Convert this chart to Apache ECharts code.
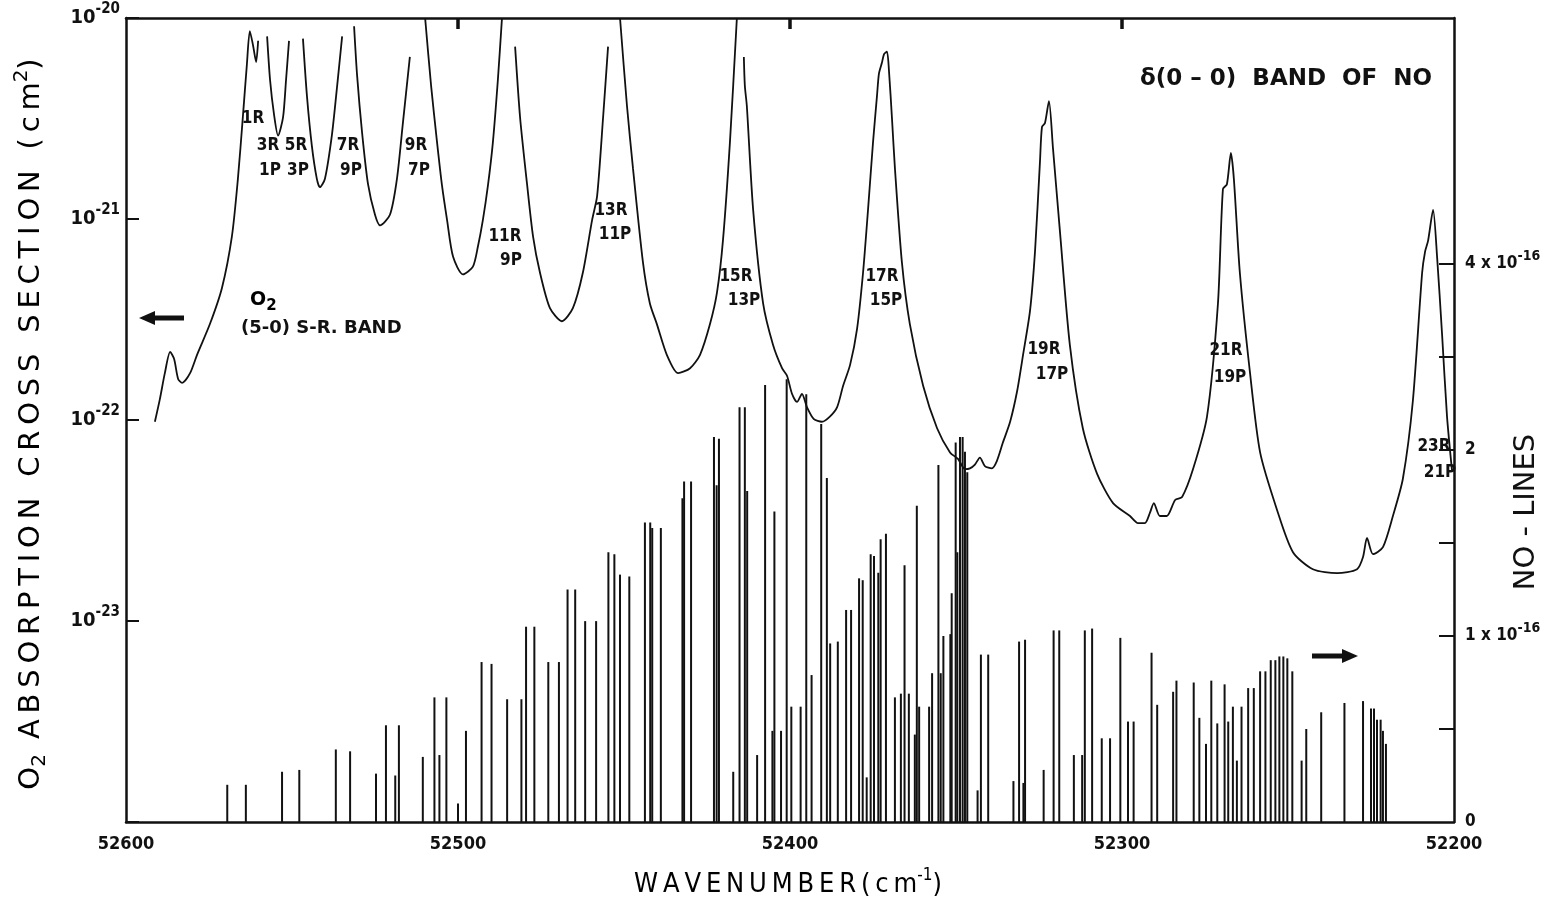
<!DOCTYPE html>
<html><head><meta charset="utf-8">
<script src="https://cdn.jsdelivr.net/npm/echarts@6/dist/echarts.min.js"></script>
<style>html,body{margin:0;padding:0;background:#fff}#c{width:1549px;height:902px}</style>
</head><body><div id="c"></div>
<script>
// ---- tick labels ----
const xTickValues = [52600, 52500, 52400, 52300, 52200];
const leftTickExponents = [-23, -22, -21, -20];   // labels 10^e (cm^2)
const rightLabelValues = [0, 1, 2, 4];            // in units of 1e-16
const rightTickValues = [0.5, 1, 1.5, 2, 3, 4];   // in units of 1e-16

// ---- O2 (5-0) S-R band absorption cross section (cm^2); null = pen lifted (peak off scale) ----
const o2Wavenumber = [
 52591.3,52589.8,52588.3,52586.7,52585.5,52584.3,52583.1,52580.7,52578.6,52574.7,52571.1,52568.1,52566.3,52564.8,52563.6,52562.7,52561.7,52560.8,52560.2,
 52559,
 52557.5,52556.6,52555.4,52554.2,52552.7,52551.8,52550.9,
 52548,
 52546.7,52545.5,52544.0,52542.5,52541.6,52540.1,52538.0,52536.4,52534.9,
 52533,
 52531.3,52530.4,52528.9,52527.1,52525.0,52523.5,52520.5,52518.4,52516.6,52514.5,
 52512,
 52509.9,52508.1,52506.3,52504.8,52503.3,52501.5,52498.5,52495.5,52494.0,52492.5,52491.0,52489.5,52488.0,52486.75,
 52485,
 52482.8,52481.3,52479.2,52477.4,52475.3,52472.3,52468.7,52465.4,52462.4,52459.6,52458.1,52456.3,52454.8,
 52453,
 52451.2,52449.1,52447.3,52444.3,52442.2,52440.1,52437.1,52433.7,52430.1,52427.1,52424.1,52422.0,52420.2,52418.1,52416.0,
 52415,
 52413.9,52413.6,52413.0,52411.1,52408.1,52405.1,52402.4,52400.9,52399.4,52397.9,52396.4,52394.9,52392.8,52390.4,52388.0,52385.8,52384.0,52381.9,52379.8,52378.0,
 52376.5,52375.0,52373.8,52373.2,52372.3,52371.7,52370.8,52370.2,52369.3,52368.4,52366.3,52363.9,52359.9,52355.7,52351.8,52349.4,52347.3,52345.8,52344.3,52342.8,
 52341.3,52339.2,52337.7,52335.9,52333.7,52331.6,52329.8,52327.7,52326.2,52324.7,52324.1,52323.2,52322.0,52320.8,52318.7,52315.7,52311.8,52307.5,52302.7,52297.6,
 52295.2,52293.1,52291.6,52290.4,52288.6,52286.5,52284.0,52281.9,52278.6,52274.4,52271.1,52269.6,52268.4,52267.2,52266.3,52264.5,52261.5,52258.4,52253.3,52248.5,
 52242.5,52235.2,52229.2,52227.4,52226.2,52224.4,52221.4,52218.4,52215.4,52212.4,52209.6,52208.7,52207.8,52206.3,52205.1,52203.6,52202.1,52200.6
];
const o2CrossSection = [
 9.8e-23,1.27e-22,1.71e-22,2.18e-22,2.01e-22,1.60e-22,1.53e-22,1.71e-22,2.11e-22,3.01e-22,4.54e-22,8.2e-22,1.58e-21,3.22e-21,5.84e-21,8.6e-21,7.26e-21,6.04e-21,7.7e-21,
 null,
 8.1e-21,4.9e-21,3.3e-21,2.6e-21,3.2e-21,4.9e-21,7.7e-21,
 null,
 7.9e-21,4.1e-21,2.3e-21,1.58e-21,1.44e-21,1.58e-21,2.6e-21,4.6e-21,8.1e-21,
 null,
 9.1e-21,5.2e-21,2.7e-21,1.49e-21,1.05e-21,9.3e-22,1.05e-21,1.58e-21,3.0e-21,6.4e-21,
 null,
 1.0e-20,4.6e-21,2.4e-21,1.46e-21,9.9e-22,6.5e-22,5.3e-22,5.8e-22,7.3e-22,9.9e-22,1.46e-21,2.4e-21,4.9e-21,1.0e-20,
 null,
 7.2e-21,3.2e-21,1.49e-21,8.2e-22,5.4e-22,3.6e-22,3.1e-22,3.6e-22,5.4e-22,9.9e-22,1.3e-21,3.2e-21,7.2e-21,
 null,
 1.0e-20,3.65e-21,1.79e-21,6.1e-22,3.8e-22,3.0e-22,2.11e-22,1.71e-22,1.81e-22,2.11e-22,3.0e-22,4.3e-22,7.8e-22,2.4e-21,1.0e-20,
 null,
 6.4e-21,4.6e-21,3.65e-21,1.11e-21,3.8e-22,2.36e-22,1.81e-22,1.66e-22,1.35e-22,1.23e-22,1.35e-22,1.16e-22,1.01e-22,9.8e-23,1.04e-22,1.16e-22,1.48e-22,1.88e-22,2.84e-22,5.4e-22,
 1.11e-21,2.4e-21,4.1e-21,5.3e-21,6.0e-21,6.6e-21,6.8e-21,5.5e-21,3.2e-21,1.79e-21,6.1e-22,3.0e-22,1.48e-22,9.1e-23,6.9e-23,6.4e-23,5.7e-23,5.75e-23,6.0e-23,6.5e-23,
 5.9e-23,5.75e-23,6.25e-23,7.7e-23,9.8e-23,1.39e-22,2.11e-22,3.5e-22,6.9e-22,1.94e-21,2.87e-21,3.0e-21,3.86e-21,2.26e-21,8.7e-22,2.36e-22,9.1e-23,5.4e-23,3.86e-23,3.33e-23,
 3.07e-23,3.07e-23,3.45e-23,3.86e-23,3.33e-23,3.33e-23,4.0e-23,4.14e-23,5.7e-23,1.04e-22,3.8e-22,1.41e-21,1.49e-21,2.13e-21,1.58e-21,5.4e-22,1.75e-22,6.9e-23,3.57e-23,2.2e-23,
 1.81e-23,1.73e-23,1.81e-23,2.08e-23,2.59e-23,2.15e-23,2.33e-23,3.33e-23,5.1e-23,1.24e-22,5.4e-22,6.9e-22,7.8e-22,1.11e-21,6.5e-22,2.68e-22,1.04e-22,5.6e-23
];

// ---- NO delta(0-0) band lines: wavenumber (cm^-1) and strength (units of 1e-16) ----
const noWavenumber = [
 52569.5,52563.9,52553.0,52547.8,52536.8,52532.5,52524.7,52521.7,52518.9,52517.8,52510.6,52507.1,52505.6,52503.5,52500.0,52497.6,52492.9,52489.9,52485.2,52480.9,
 52479.5,52477.0,52472.8,52469.6,52467.0,52464.7,52461.7,52458.4,52454.7,52452.9,52451.2,52448.4,52443.7,52442.1,52441.5,52438.9,52432.4,52431.9,52429.8,52422.9,
 52422.1,52421.4,52417.1,52415.2,52413.6,52412.9,52409.9,52407.5,52405.3,52404.7,52402.7,52401.0,52399.6,52396.8,52395.1,52393.5,52390.6,52388.9,52387.9,52385.6,
 52383.1,52381.6,52379.2,52378.1,52376.9,52375.7,52374.7,52373.4,52372.7,52371.1,52368.4,52366.6,52365.5,52364.2,52362.4,52361.8,52361.1,52358.1,52357.2,52355.3,
 52354.6,52353.8,52351.7,52351.3,52350.1,52349.6,52348.8,52348.0,52347.3,52346.6,52343.5,52342.5,52340.3,52332.7,52331.0,52329.7,52329.2,52323.6,52320.6,52318.9,
 52314.5,52312.0,52311.2,52309.0,52306.1,52303.6,52300.5,52298.2,52296.5,52291.1,52289.4,52284.6,52283.6,52278.4,52276.7,52274.7,52273.1,52271.3,52269.1,52268.0,
 52266.6,52265.4,52264.0,52262.0,52260.3,52258.4,52256.8,52255.2,52253.8,52252.6,52251.4,52250.2,52248.7,52245.9,52244.5,52240.0,52233.0,52227.4,52225.0,52224.1,
 52223.2,52222.1,52221.4,52220.5
];
const noStrength = [
 0.20,0.20,0.27,0.28,0.39,0.38,0.26,0.52,0.25,0.52,0.35,0.67,0.36,0.67,0.10,0.49,0.86,0.85,0.66,0.66,
 1.05,1.05,0.86,0.86,1.25,1.25,1.08,1.08,1.45,1.44,1.33,1.32,1.61,1.61,1.58,1.58,1.74,1.83,1.83,2.14,
 1.81,2.12,0.27,2.46,2.46,1.78,0.36,2.70,0.49,1.67,0.49,2.76,0.62,0.62,2.60,0.79,2.28,1.85,0.96,0.97,
 1.14,1.14,1.31,1.30,0.24,1.44,1.43,1.34,1.52,1.55,0.67,0.69,1.38,0.69,0.47,1.70,0.62,0.62,0.80,1.92,
 0.80,1.00,1.01,1.23,2.08,1.45,2.14,2.14,1.99,1.88,0.17,0.90,0.90,0.22,0.97,0.21,0.98,0.28,1.03,1.03,
 0.36,0.36,1.03,1.04,0.45,0.45,0.99,0.54,0.54,0.91,0.63,0.70,0.76,0.75,0.56,0.42,0.76,0.53,0.74,0.54,
 0.62,0.33,0.62,0.72,0.72,0.81,0.81,0.87,0.87,0.89,0.89,0.88,0.81,0.33,0.50,0.59,0.64,0.65,0.61,0.61,
 0.55,0.55,0.49,0.42
];

// ---- line labels on the O2 curve ----
const bandLabels = ['1R','3R','1P','5R','3P','7R','9P','9R','7P','11R','9P','13R','11P','15R','13P','17R','15P','19R','17P','21R','19P','23R','21P'];

// right axis of the original: linear 0..2, then compressed x2 above 2 (2 -> 4 spans one label step)
function noAxisPos(v) { return v <= 2 ? v : 2 + (v - 2) / 2; }
function noAxisValue(p) { return p <= 2 ? p : 2 + (p - 2) * 2; }
// wide letter spacing of the original lettering
function spaced(s) { return Array.from(s).join('\u2009'); }

const GRID = { left: 126, top: 18, width: 1328, height: 804 };
const INK = '#111';
const COND = "'DejaVu Sans Condensed','Liberation Sans Narrow','DejaVu Sans',sans-serif";
const SANS = "'DejaVu Sans',sans-serif";

// left axis is logarithmic: plotted through log10 on a value axis
const o2Data = o2Wavenumber.map((w, i) => [w, o2CrossSection[i] == null ? '-' : Math.log10(o2CrossSection[i])]);
const noData = noWavenumber.map((w, i) => [w, noAxisPos(noStrength[i])]);

const leftRich = {
  b: { fontSize: 20, fontFamily: COND, fontWeight: 'bold', color: INK },
  s: { fontSize: 15, fontFamily: COND, fontWeight: 'bold', color: INK, padding: [0, 0, 18, 0] }
};
const rightRich = {
  b: { fontSize: 17, fontFamily: COND, fontWeight: 'bold', color: INK },
  s: { fontSize: 14, fontFamily: COND, fontWeight: 'bold', color: INK, padding: [0, 0, 16, 0] }
};

// label positions (pixel) for in-plot annotations
const labelPos = [[253,119],[268,146],[270,171],[296,146],[298,171],[348,146],[351,171],[416,146],[419,171],
  [505,237],[511,261],[611,211],[615,235],[736,277],[744,301],[882,277],[886,301],[1044,350],[1052,375],[1226,351],[1230,378],[1434,447],[1440,473]];

const graphics = bandLabels.map((t, i) => ({
  type: 'text', x: labelPos[i][0], y: labelPos[i][1], z: 10,
  style: { text: t, font: "bold 17px " + COND, fill: INK, align: 'center', verticalAlign: 'middle' }
}));

graphics.push(
  { type: 'text', x: 1140, y: 79, style: { text: 'δ(0 – 0)  BAND  OF  NO', font: "bold 23px " + SANS, fill: INK, align: 'left', verticalAlign: 'middle' } },
  { type: 'text', x: 250, y: 300, style: { text: '{o|O}{s|2}', rich: { o: { fontSize: 19, fontFamily: SANS, fontWeight: 'bold', color: INK }, s: { fontSize: 15, fontFamily: SANS, fontWeight: 'bold', color: INK, padding: [12, 0, 0, 0] } }, align: 'left', verticalAlign: 'middle' } },
  { type: 'text', x: 241, y: 328, style: { text: '(5-0) S-R. BAND', font: "bold 18px " + SANS, fill: INK, align: 'left', verticalAlign: 'middle' } },
  { type: 'line', shape: { x1: 184, y1: 318, x2: 152, y2: 318 }, style: { stroke: INK, lineWidth: 5 } },
  { type: 'polygon', shape: { points: [[139, 318], [155, 311], [155, 325]] }, style: { fill: INK } },
  { type: 'line', shape: { x1: 1312, y1: 656, x2: 1344, y2: 656 }, style: { stroke: INK, lineWidth: 5 } },
  { type: 'polygon', shape: { points: [[1358, 656], [1342, 649], [1342, 663]] }, style: { fill: INK } },
  { type: 'text', x: 31, y: 424, rotation: Math.PI / 2, style: {
      text: '{b|O}{sub|2}{b|' + spaced(' ABSORPTION CROSS SECTION (cm') + '}{sup|2}{b|)}',
      rich: { b: { fontSize: 29, fontFamily: SANS, color: INK }, sub: { fontSize: 20, fontFamily: SANS, color: INK, padding: [17, 0, 0, 0] }, sup: { fontSize: 20, fontFamily: SANS, color: INK, padding: [0, 0, 19, 0] } },
      align: 'center', verticalAlign: 'middle' } },
  { type: 'text', x: 1526, y: 512, rotation: Math.PI / 2, style: { text: 'NO - LINES', font: "29px " + SANS, fill: INK, align: 'center', verticalAlign: 'middle' } },
  { type: 'text', x: 788, y: 885, style: {
      text: '{b|' + spaced('WAVENUMBER(cm') + '}{s|-1}{b|)}',
      rich: { b: { fontSize: 27, fontFamily: COND, color: INK }, s: { fontSize: 17, fontFamily: COND, color: INK, padding: [0, 0, 19, 0] } },
      align: 'center', verticalAlign: 'middle' } }
);

const chart = echarts.init(document.getElementById('c'));
chart.setOption({
  animation: false,
  backgroundColor: '#fff',
  grid: GRID,
  xAxis: [
    { type: 'value', min: 52200, max: 52600, interval: 100, inverse: true, position: 'bottom',
      axisLine: { lineStyle: { color: INK, width: 2.5 } }, axisTick: { show: false }, splitLine: { show: false },
      axisLabel: { color: INK, fontSize: 18, fontWeight: 'bold', fontFamily: COND, margin: 13,
        customValues: xTickValues, formatter: v => String(v) } },
    { type: 'value', min: 52200, max: 52600, interval: 100, inverse: true, position: 'top',
      axisLine: { lineStyle: { color: INK, width: 2.5 } },
      axisTick: { inside: true, length: 11, lineStyle: { color: INK, width: 3.5 }, customValues: [52500, 52400, 52300] },
      axisLabel: { show: false }, splitLine: { show: false } }
  ],
  yAxis: [
    { type: 'value', min: -24, max: -20, interval: 1, position: 'left',
      axisLine: { show: true, lineStyle: { color: INK, width: 2.5 } },
      axisTick: { inside: true, length: 13, lineStyle: { color: INK, width: 2 } },
      splitLine: { show: false },
      axisLabel: { margin: 6, rich: leftRich, customValues: leftTickExponents,
        formatter: e => '{b|10}{s|-' + (-Math.round(e)) + '}' } },
    { type: 'value', min: 0, max: 804 / 186, position: 'right',
      axisLine: { show: true, lineStyle: { color: INK, width: 2.5 } },
      axisTick: { inside: true, length: 15, lineStyle: { color: INK, width: 2 }, customValues: rightTickValues.map(noAxisPos) },
      splitLine: { show: false },
      axisLabel: { margin: 11, rich: rightRich, customValues: rightLabelValues.map(noAxisPos), formatter: p => {
        const v = Math.round(noAxisValue(p) * 100) / 100;
        if (v === 1 || v === 4) return '{b|' + v + ' x 10}{s|-16}';
        return '{b|' + v + '}'; } } }
  ],
  series: [
    { type: 'bar', name: 'NO lines', xAxisIndex: 0, yAxisIndex: 1, data: noData, barWidth: 2,
      itemStyle: { color: INK }, z: 2, silent: true },
    { type: 'line', name: 'O2 cross section', xAxisIndex: 0, yAxisIndex: 0, data: o2Data,
      showSymbol: false, symbol: 'none', connectNulls: false, smooth: 0.25,
      lineStyle: { color: INK, width: 1.8 }, z: 3, silent: true }
  ],
  graphic: graphics
});
</script>
</body></html>
